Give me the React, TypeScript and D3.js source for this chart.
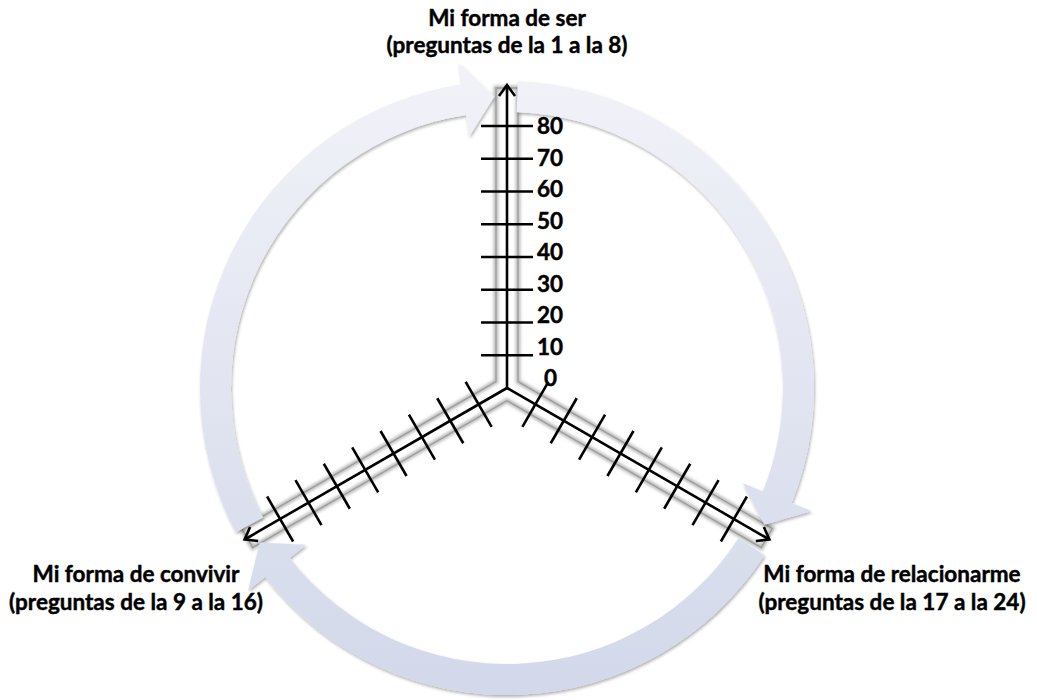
import React from 'react';
import * as d3 from 'd3';

// ---- data ----
const axisNames = ['Mi forma de ser', 'Mi forma de relacionarme', 'Mi forma de convivir'];
const axisSubtitles = ['(preguntas de la 1 a la 8)', '(preguntas de la 17 a la 24)', '(preguntas de la 9 a la 16)'];
const axisAngles = [0, 120, 240]; // degrees, clockwise from top
const tickValues = [10, 20, 30, 40, 50, 60, 70, 80];
const tickLabelValues = [0, 10, 20, 30, 40, 50, 60, 70, 80];
const cycleStartAngles = [242, 2, 123];
const cycleTipAngles = [357.5, 118, 238];

// ---- layout ----
const W = 1037;
const H = 700;
const cx = 507;
const cy = 388;
const FONT = 'Lato, "Open Sans", "DejaVu Sans", sans-serif';

const radius = d3.scaleLinear().domain([0, 80]).range([0, 262]);
const labelY = d3.scaleLinear().domain([0, 80]).range([378, 126]);
const ringR = { inner: 276, outer: 307 };
const headHalf = 37;
const headDeg = 6;

const rad = (deg: number) => (deg * Math.PI) / 180;
const pt = (deg: number, d: number): [number, number] => [cx + d * Math.sin(rad(deg)), cy - d * Math.cos(rad(deg))];
const normal = (deg: number): [number, number] => [Math.cos(rad(deg)), Math.sin(rad(deg))];

function arrowPath(start: number, tip: number): string {
  const base = tip - headDeg;
  const mid = (ringR.inner + ringR.outer) / 2;
  const p = d3.path();
  const ca = (deg: number) => rad(deg - 90);
  const s0 = pt(start, ringR.outer);
  p.moveTo(s0[0], s0[1]);
  p.arc(cx, cy, ringR.outer, ca(start), ca(base), false);
  const o = pt(base, mid + headHalf);
  p.lineTo(o[0], o[1]);
  const t = pt(tip, mid);
  p.lineTo(t[0], t[1]);
  const i = pt(base, mid - headHalf);
  p.lineTo(i[0], i[1]);
  const ib = pt(base, ringR.inner);
  p.lineTo(ib[0], ib[1]);
  p.arc(cx, cy, ringR.inner, ca(base), ca(start), true);
  p.closePath();
  return p.toString();
}

function yOutline(w: number, L: number): string {
  const pts: [number, number][] = [];
  const corner = w / Math.sin(rad(60));
  axisAngles.forEach((a) => {
    const [ux, uy] = [Math.sin(rad(a)), -Math.cos(rad(a))];
    const [nx, ny] = normal(a);
    pts.push([cx + L * ux - w * nx, cy + L * uy - w * ny]);
    pts.push([cx + L * ux + w * nx, cy + L * uy + w * ny]);
    pts.push(pt(a + 60, corner));
  });
  return 'M' + pts.map((q) => q.join(',')).join('L') + 'Z';
}

export default function App() {
  const axisLen = 303;
  const tickHalf = 26;
  const titleSize = 22.5;
  const textProps = { fontWeight: 'bold', fill: '#000', stroke: '#000', strokeWidth: 0.45 } as const;
  return (
    <svg width={W} height={H} style={{ position: 'absolute', left: 0, top: 0, background: '#fff' }} fontFamily={FONT}>
      <defs>
        <linearGradient id="ringGrad" gradientUnits="userSpaceOnUse" x1="0" y1="80" x2="0" y2="700">
          <stop offset="0" stopColor="#f1f2f8" />
          <stop offset="1" stopColor="#d2d8ea" />
        </linearGradient>
        <filter id="shadow" x="-10%" y="-10%" width="120%" height="120%">
          <feDropShadow dx="1" dy="2" stdDeviation="1.5" floodColor="#000" floodOpacity="0.3" />
        </filter>
        <filter id="blur" x="-10%" y="-10%" width="120%" height="120%">
          <feGaussianBlur stdDeviation="1.5" />
        </filter>
      </defs>

      {/* Y-shaped band around the axes */}
      <path d={yOutline(11, 300)} fill="none" stroke="#bdbdbd" strokeWidth={5} filter="url(#blur)" />
      <path d={yOutline(11, 300)} fill="none" stroke="#9c9c9c" strokeWidth={1.3} />

      {/* cycle arrows */}
      {cycleStartAngles.map((s, i) => (
        <path key={i} d={arrowPath(s, cycleTipAngles[i])} fill="url(#ringGrad)" filter="url(#shadow)" />
      ))}

      {/* axes */}
      {axisAngles.map((a, i) => {
        const end = pt(a, axisLen);
        const back = pt(a, axisLen - 11);
        const [nx, ny] = normal(a);
        return (
          <g key={i}>
            <line x1={cx} y1={cy} x2={end[0]} y2={end[1]} stroke="#000" strokeWidth={2.6} />
            <polyline
              points={`${back[0] - 8 * nx},${back[1] - 8 * ny} ${end[0]},${end[1]} ${back[0] + 8 * nx},${back[1] + 8 * ny}`}
              fill="none"
              stroke="#000"
              strokeWidth={2.6}
            />
            {tickValues.map((v) => {
              const c = pt(a, radius(v));
              return (
                <line
                  key={v}
                  x1={c[0] - tickHalf * nx}
                  y1={c[1] - tickHalf * ny}
                  x2={c[0] + tickHalf * nx}
                  y2={c[1] + tickHalf * ny}
                  stroke="#000"
                  strokeWidth={2.6}
                />
              );
            })}
          </g>
        );
      })}

      {/* tick labels on the vertical axis */}
      {tickLabelValues.map((v) => (
        <text key={v} x={cx + 30 + (v === 0 ? 7 : 0)} y={labelY(v)} dy="0.36em" fontSize={22.5} {...textProps}>
          {v}
        </text>
      ))}

      {/* axis titles */}
      <text x={507} y={26} textAnchor="middle" fontSize={titleSize} {...textProps}>
        {axisNames[0]}
      </text>
      <text x={507} y={53} textAnchor="middle" fontSize={titleSize} {...textProps}>
        {axisSubtitles[0]}
      </text>
      <text x={892} y={582} textAnchor="middle" fontSize={titleSize} {...textProps}>
        {axisNames[1]}
      </text>
      <text x={892} y={610} textAnchor="middle" fontSize={titleSize} {...textProps}>
        {axisSubtitles[1]}
      </text>
      <text x={136} y={582} textAnchor="middle" fontSize={titleSize} {...textProps}>
        {axisNames[2]}
      </text>
      <text x={136} y={610} textAnchor="middle" fontSize={titleSize} {...textProps}>
        {axisSubtitles[2]}
      </text>
    </svg>
  );
}
